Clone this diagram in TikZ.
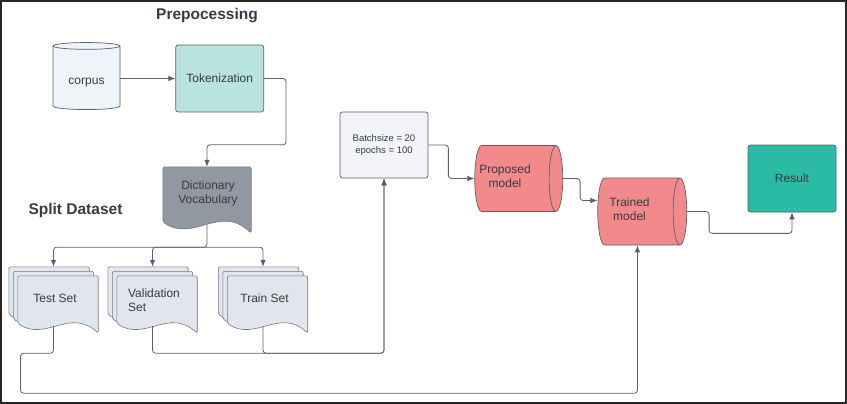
\documentclass[tikz,border=0pt]{standalone}
\usepackage{fontspec}
\setmainfont{Liberation Sans}
\usetikzlibrary{positioning,arrows.meta,calc,shapes.geometric}

\definecolor{edgegray}{HTML}{5C6068}
\definecolor{txtgray}{HTML}{363B45}
\definecolor{corpusfill}{HTML}{EEF4F9}
\definecolor{tokfill}{HTML}{B9E3DF}
\definecolor{dictfill}{HTML}{9298A2}
\definecolor{setfill}{HTML}{E1E5EC}
\definecolor{batchfill}{HTML}{F3F4F8}
\definecolor{modelfill}{HTML}{F28A8C}
\definecolor{resultfill}{HTML}{2BBBA4}

% one sheet with a wavy lower edge, corners #1 (nw) and #2 (se)
\newcommand{\docsheet}[3]{%
  \draw[sheet, fill=#3] let \p1=#1, \p2=#2 in
    (\x1,{\y2+0.17*(\y1-\y2)}) -- (\x1,\y1) -- (\x2,\y1) -- (\x2,\y2)
    .. controls ({0.35*\x1+0.65*\x2},{\y2+0.45*(\y1-\y2)}) and ({0.65*\x1+0.35*\x2},{\y2-0.15*(\y1-\y2)}) .. (\x1,{\y2+0.17*(\y1-\y2)}) -- cycle;}
% three stacked sheets inside node #1
\newcommand{\docstack}[2]{%
  \docsheet{(#1.north west)}{($(#1.south east)+(-9pt,9pt)$)}{#2}
  \docsheet{($(#1.north west)+(4.5pt,-4.5pt)$)}{($(#1.south east)+(-4.5pt,4.5pt)$)}{#2}
  \docsheet{($(#1.north west)+(9pt,-9pt)$)}{(#1.south east)}{#2}}

\begin{document}
\begin{tikzpicture}[x=1pt, y=-1pt, font=\fontsize{12}{14.5}\selectfont, text=txtgray,
    >={Latex[length=7pt,width=5.5pt]},
    box/.style={draw=edgegray, line width=0.7pt, rounded corners=2.5pt, minimum width=88pt, minimum height=67pt, inner sep=2pt, align=center},
    drum/.style={cylinder, draw=edgegray, line width=0.7pt, fill=modelfill, align=center, inner sep=2pt, aspect=0.5, minimum height=88pt, minimum width=66pt},
    docnode/.style={inner sep=0pt, minimum width=88pt, minimum height=66pt},
    sheet/.style={draw=edgegray!85, line width=0.6pt, rounded corners=2pt},
    lbl/.style={align=center},
    title/.style={font=\fontsize{15.5}{18}\selectfont\bfseries},
    conn/.style={draw=edgegray, line width=0.8pt, rounded corners=3pt, ->}]
  \useasboundingbox (0,0) rectangle (847,404);
  \draw[line width=2pt, black!85] (1,1) rectangle (846,403);

  \node[title] (preptitle) at (207,16) {Prepocessing};
  \node[title] (splittitle) at (75.5,210) {Split Dataset};

  \node[drum, fill=corpusfill, shape border rotate=90, aspect=0.17, minimum width=67pt, minimum height=67pt] (corpus) at (86.5,78.5) {\phantom{corpus}};
  \node[lbl] (corpuslbl) at ($(corpus.center)+(0,4.5)$) {corpus};
  \node[box, fill=tokfill, right=55pt of corpus] (tok) {Tokenization};

  \node[docnode] (dict) at (207,200) {};
  \docsheet{(dict.north west)}{(dict.south east)}{dictfill}
  \node[lbl] (dictlbl) at ($(dict.center)+(1,-6.5)$) {Dictionary\\Vocabulary};

  \node[docnode, minimum width=89pt] (test) at (53.5,300) {};
  \node[docnode, minimum width=89pt] (val) at (152.5,300) {};
  \node[docnode, minimum width=89pt] (train) at (263,300) {};
  \docstack{test}{setfill}
  \docstack{val}{setfill}
  \docstack{train}{setfill}
  \node[lbl] (testlbl) at ($(test.center)+(1.5,-2)$) {Test Set};
  \node[lbl, align=left] (vallbl) at ($(val.center)+(1.5,0)$) {Validation\\Set};
  \node[lbl] (trainlbl) at ($(train.center)+(1.5,-2)$) {Train Set};

  \node[box, fill=batchfill, minimum height=66pt, font=\fontsize{9.5}{12.5}\selectfont] (batch) at (384,145) {Batchsize = 20\\epochs = 100};
  \node[drum] (proposed) at (514,178.5) {\phantom{Proposed}\\\phantom{model}};
  \node[lbl] (proposedlbl) at ($(proposed.center)+(-9,-2.5)$) {Proposed\\model};
  \node[drum, minimum height=89pt, minimum width=67pt] (trained) at (637.5,211.5) {\phantom{Trained}\\\phantom{model}};
  \node[lbl] (trainedlbl) at ($(trained.center)+(-8,-2.5)$) {Trained\\model};
  \node[box, fill=resultfill] (result) at (792,178.5) {Result};

  \draw[conn] (corpus) -- (tok);
  \draw[conn] (tok.east) -- ++(22,0) |- ($(dict.north)+(0,-22)$) -- (dict.north);
  \coordinate (split) at ($(dict.south)+(0,14)$);
  \draw[conn] ($(dict.south)+(0,-8)$) -- (split) -| (test.north);
  \draw[conn] (split) -| (val.north);
  \draw[conn] (split) -| (train.north);
  \draw[conn] ($(val.south)+(0,-7)$) -- ++(0,27) -| (batch.south);
  \draw[conn] ($(train.south)+(0,-7)$) -- ++(0,27) -| (batch.south);
  \draw[conn] ($(test.south)+(0,-7)$) -- ++(0,27) -| ++(-33,40) -| (trained.south);
  \draw[conn] (batch.east) -- ++(20,0) |- (proposed.west);
  \draw[conn] (proposed.east) -- ++(17,0) |- ($(trained.west)+(0,-11)$);
  \draw[conn] (trained.east) -- ++(22,0) |- ($(result.south)+(0,21)$) -- (result.south);
\end{tikzpicture}
\end{document}
